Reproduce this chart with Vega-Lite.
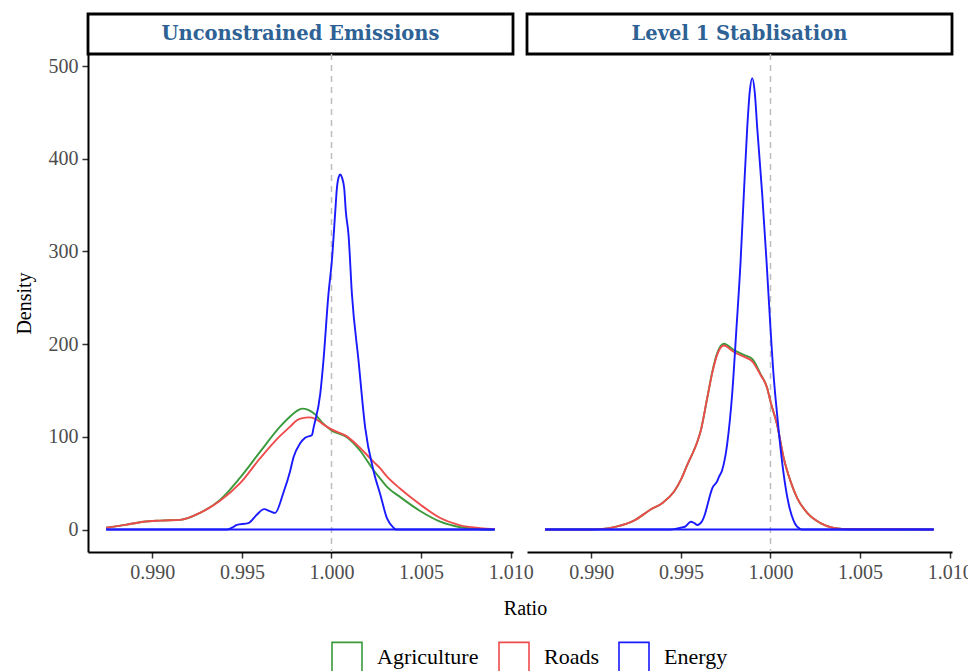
{
  "$schema": "https://vega.github.io/schema/vega-lite/v6.json",
  "background": "white",
  "autosize": {"type": "pad"},
  "padding": {"left": 14, "top": 12, "right": 10, "bottom": 0},
  "datasets": {
    "curves": [
      {"panel": "U", "sector": "Agriculture", "ratio": 0.98742, "density": 2},
      {"panel": "U", "sector": "Agriculture", "ratio": 0.9885, "density": 5},
      {"panel": "U", "sector": "Agriculture", "ratio": 0.9895, "density": 8.5},
      {"panel": "U", "sector": "Agriculture", "ratio": 0.99043, "density": 9.7},
      {"panel": "U", "sector": "Agriculture", "ratio": 0.99155, "density": 10.4},
      {"panel": "U", "sector": "Agriculture", "ratio": 0.99266, "density": 18},
      {"panel": "U", "sector": "Agriculture", "ratio": 0.99378, "density": 32},
      {"panel": "U", "sector": "Agriculture", "ratio": 0.9949, "density": 56},
      {"panel": "U", "sector": "Agriculture", "ratio": 0.99602, "density": 84},
      {"panel": "U", "sector": "Agriculture", "ratio": 0.99713, "density": 111},
      {"panel": "U", "sector": "Agriculture", "ratio": 0.99769, "density": 122},
      {"panel": "U", "sector": "Agriculture", "ratio": 0.99807, "density": 128},
      {"panel": "U", "sector": "Agriculture", "ratio": 0.99835, "density": 130.5},
      {"panel": "U", "sector": "Agriculture", "ratio": 0.9987, "density": 129},
      {"panel": "U", "sector": "Agriculture", "ratio": 0.9991, "density": 124},
      {"panel": "U", "sector": "Agriculture", "ratio": 0.9995, "density": 115},
      {"panel": "U", "sector": "Agriculture", "ratio": 1.0, "density": 107},
      {"panel": "U", "sector": "Agriculture", "ratio": 1.00086, "density": 99.6},
      {"panel": "U", "sector": "Agriculture", "ratio": 1.0016, "density": 85},
      {"panel": "U", "sector": "Agriculture", "ratio": 1.00235, "density": 64},
      {"panel": "U", "sector": "Agriculture", "ratio": 1.00272, "density": 55},
      {"panel": "U", "sector": "Agriculture", "ratio": 1.0031, "density": 46},
      {"panel": "U", "sector": "Agriculture", "ratio": 1.00384, "density": 35},
      {"panel": "U", "sector": "Agriculture", "ratio": 1.00495, "density": 20},
      {"panel": "U", "sector": "Agriculture", "ratio": 1.00607, "density": 8.5},
      {"panel": "U", "sector": "Agriculture", "ratio": 1.00719, "density": 2.5},
      {"panel": "U", "sector": "Agriculture", "ratio": 1.0083, "density": 0.4},
      {"panel": "U", "sector": "Agriculture", "ratio": 1.00911, "density": 0},
      {"panel": "U", "sector": "Roads", "ratio": 0.98742, "density": 2},
      {"panel": "U", "sector": "Roads", "ratio": 0.9885, "density": 5},
      {"panel": "U", "sector": "Roads", "ratio": 0.9895, "density": 8.5},
      {"panel": "U", "sector": "Roads", "ratio": 0.99043, "density": 9.7},
      {"panel": "U", "sector": "Roads", "ratio": 0.99155, "density": 10.4},
      {"panel": "U", "sector": "Roads", "ratio": 0.99266, "density": 18},
      {"panel": "U", "sector": "Roads", "ratio": 0.99378, "density": 31},
      {"panel": "U", "sector": "Roads", "ratio": 0.9949, "density": 50},
      {"panel": "U", "sector": "Roads", "ratio": 0.99602, "density": 77},
      {"panel": "U", "sector": "Roads", "ratio": 0.99713, "density": 101},
      {"panel": "U", "sector": "Roads", "ratio": 0.99769, "density": 111},
      {"panel": "U", "sector": "Roads", "ratio": 0.99807, "density": 118},
      {"panel": "U", "sector": "Roads", "ratio": 0.99845, "density": 120.5},
      {"panel": "U", "sector": "Roads", "ratio": 0.99872, "density": 121},
      {"panel": "U", "sector": "Roads", "ratio": 0.9991, "density": 119.5},
      {"panel": "U", "sector": "Roads", "ratio": 0.9995, "density": 114},
      {"panel": "U", "sector": "Roads", "ratio": 1.0, "density": 108},
      {"panel": "U", "sector": "Roads", "ratio": 1.00086, "density": 100.5},
      {"panel": "U", "sector": "Roads", "ratio": 1.0016, "density": 88},
      {"panel": "U", "sector": "Roads", "ratio": 1.00235, "density": 73},
      {"panel": "U", "sector": "Roads", "ratio": 1.00272, "density": 66},
      {"panel": "U", "sector": "Roads", "ratio": 1.0031, "density": 57},
      {"panel": "U", "sector": "Roads", "ratio": 1.00384, "density": 44},
      {"panel": "U", "sector": "Roads", "ratio": 1.00495, "density": 27},
      {"panel": "U", "sector": "Roads", "ratio": 1.00607, "density": 12.5},
      {"panel": "U", "sector": "Roads", "ratio": 1.00719, "density": 4.6},
      {"panel": "U", "sector": "Roads", "ratio": 1.0083, "density": 1.6},
      {"panel": "U", "sector": "Roads", "ratio": 1.00911, "density": 0.3},
      {"panel": "U", "sector": "Energy", "ratio": 0.98742, "density": 0},
      {"panel": "U", "sector": "Energy", "ratio": 0.99416, "density": 0},
      {"panel": "U", "sector": "Energy", "ratio": 0.99445, "density": 2},
      {"panel": "U", "sector": "Energy", "ratio": 0.99472, "density": 5},
      {"panel": "U", "sector": "Energy", "ratio": 0.99536, "density": 7},
      {"panel": "U", "sector": "Energy", "ratio": 0.99583, "density": 16},
      {"panel": "U", "sector": "Energy", "ratio": 0.99624, "density": 22},
      {"panel": "U", "sector": "Energy", "ratio": 0.99655, "density": 20},
      {"panel": "U", "sector": "Energy", "ratio": 0.99685, "density": 18},
      {"panel": "U", "sector": "Energy", "ratio": 0.99732, "density": 40},
      {"panel": "U", "sector": "Energy", "ratio": 0.99769, "density": 63},
      {"panel": "U", "sector": "Energy", "ratio": 0.99788, "density": 78},
      {"panel": "U", "sector": "Energy", "ratio": 0.99825, "density": 93},
      {"panel": "U", "sector": "Energy", "ratio": 0.99853, "density": 99},
      {"panel": "U", "sector": "Energy", "ratio": 0.99891, "density": 102},
      {"panel": "U", "sector": "Energy", "ratio": 0.999, "density": 110},
      {"panel": "U", "sector": "Energy", "ratio": 0.99937, "density": 146},
      {"panel": "U", "sector": "Energy", "ratio": 0.99955, "density": 182},
      {"panel": "U", "sector": "Energy", "ratio": 0.99983, "density": 254},
      {"panel": "U", "sector": "Energy", "ratio": 1.00002, "density": 290},
      {"panel": "U", "sector": "Energy", "ratio": 1.00021, "density": 343},
      {"panel": "U", "sector": "Energy", "ratio": 1.0003, "density": 368},
      {"panel": "U", "sector": "Energy", "ratio": 1.0004, "density": 380},
      {"panel": "U", "sector": "Energy", "ratio": 1.00049, "density": 383},
      {"panel": "U", "sector": "Energy", "ratio": 1.00058, "density": 380},
      {"panel": "U", "sector": "Energy", "ratio": 1.00071, "density": 368},
      {"panel": "U", "sector": "Energy", "ratio": 1.0008, "density": 343},
      {"panel": "U", "sector": "Energy", "ratio": 1.00095, "density": 318},
      {"panel": "U", "sector": "Energy", "ratio": 1.00114, "density": 254},
      {"panel": "U", "sector": "Energy", "ratio": 1.00151, "density": 182},
      {"panel": "U", "sector": "Energy", "ratio": 1.00188, "density": 110},
      {"panel": "U", "sector": "Energy", "ratio": 1.00235, "density": 63},
      {"panel": "U", "sector": "Energy", "ratio": 1.00272, "density": 38},
      {"panel": "U", "sector": "Energy", "ratio": 1.0031, "density": 12},
      {"panel": "U", "sector": "Energy", "ratio": 1.00346, "density": 2},
      {"panel": "U", "sector": "Energy", "ratio": 1.0036, "density": 0},
      {"panel": "U", "sector": "Energy", "ratio": 1.00911, "density": 0},
      {"panel": "L", "sector": "Agriculture", "ratio": 0.98742, "density": 0},
      {"panel": "L", "sector": "Agriculture", "ratio": 0.99, "density": 0},
      {"panel": "L", "sector": "Agriculture", "ratio": 0.99052, "density": 0.5},
      {"panel": "L", "sector": "Agriculture", "ratio": 0.99145, "density": 3.5},
      {"panel": "L", "sector": "Agriculture", "ratio": 0.99238, "density": 9.7},
      {"panel": "L", "sector": "Agriculture", "ratio": 0.99331, "density": 21.6},
      {"panel": "L", "sector": "Agriculture", "ratio": 0.99397, "density": 28.7},
      {"panel": "L", "sector": "Agriculture", "ratio": 0.99462, "density": 41},
      {"panel": "L", "sector": "Agriculture", "ratio": 0.99498, "density": 53},
      {"panel": "L", "sector": "Agriculture", "ratio": 0.99536, "density": 70},
      {"panel": "L", "sector": "Agriculture", "ratio": 0.99592, "density": 95},
      {"panel": "L", "sector": "Agriculture", "ratio": 0.9961, "density": 106},
      {"panel": "L", "sector": "Agriculture", "ratio": 0.99647, "density": 142},
      {"panel": "L", "sector": "Agriculture", "ratio": 0.99675, "density": 170},
      {"panel": "L", "sector": "Agriculture", "ratio": 0.99702, "density": 190},
      {"panel": "L", "sector": "Agriculture", "ratio": 0.9974, "density": 200.5},
      {"panel": "L", "sector": "Agriculture", "ratio": 0.99796, "density": 193.5},
      {"panel": "L", "sector": "Agriculture", "ratio": 0.99851, "density": 188.5},
      {"panel": "L", "sector": "Agriculture", "ratio": 0.99898, "density": 184},
      {"panel": "L", "sector": "Agriculture", "ratio": 0.99944, "density": 168},
      {"panel": "L", "sector": "Agriculture", "ratio": 0.99981, "density": 153},
      {"panel": "L", "sector": "Agriculture", "ratio": 1.0, "density": 138},
      {"panel": "L", "sector": "Agriculture", "ratio": 1.00037, "density": 113},
      {"panel": "L", "sector": "Agriculture", "ratio": 1.00074, "density": 77},
      {"panel": "L", "sector": "Agriculture", "ratio": 1.00112, "density": 52},
      {"panel": "L", "sector": "Agriculture", "ratio": 1.00149, "density": 34},
      {"panel": "L", "sector": "Agriculture", "ratio": 1.00205, "density": 18},
      {"panel": "L", "sector": "Agriculture", "ratio": 1.00279, "density": 7},
      {"panel": "L", "sector": "Agriculture", "ratio": 1.00353, "density": 1.7},
      {"panel": "L", "sector": "Agriculture", "ratio": 1.00446, "density": 0.3},
      {"panel": "L", "sector": "Agriculture", "ratio": 1.00911, "density": 0},
      {"panel": "L", "sector": "Roads", "ratio": 0.98742, "density": 0},
      {"panel": "L", "sector": "Roads", "ratio": 0.99, "density": 0},
      {"panel": "L", "sector": "Roads", "ratio": 0.99052, "density": 0.5},
      {"panel": "L", "sector": "Roads", "ratio": 0.99145, "density": 3.5},
      {"panel": "L", "sector": "Roads", "ratio": 0.99238, "density": 9.7},
      {"panel": "L", "sector": "Roads", "ratio": 0.99331, "density": 21.6},
      {"panel": "L", "sector": "Roads", "ratio": 0.99397, "density": 28.7},
      {"panel": "L", "sector": "Roads", "ratio": 0.99462, "density": 41},
      {"panel": "L", "sector": "Roads", "ratio": 0.99498, "density": 53},
      {"panel": "L", "sector": "Roads", "ratio": 0.99536, "density": 70},
      {"panel": "L", "sector": "Roads", "ratio": 0.99592, "density": 95},
      {"panel": "L", "sector": "Roads", "ratio": 0.9961, "density": 106},
      {"panel": "L", "sector": "Roads", "ratio": 0.99647, "density": 142},
      {"panel": "L", "sector": "Roads", "ratio": 0.99675, "density": 169},
      {"panel": "L", "sector": "Roads", "ratio": 0.99702, "density": 188.5},
      {"panel": "L", "sector": "Roads", "ratio": 0.9974, "density": 198.5},
      {"panel": "L", "sector": "Roads", "ratio": 0.99796, "density": 191.5},
      {"panel": "L", "sector": "Roads", "ratio": 0.99851, "density": 186.5},
      {"panel": "L", "sector": "Roads", "ratio": 0.99898, "density": 181.5},
      {"panel": "L", "sector": "Roads", "ratio": 0.99944, "density": 167},
      {"panel": "L", "sector": "Roads", "ratio": 0.99981, "density": 153},
      {"panel": "L", "sector": "Roads", "ratio": 1.0, "density": 138},
      {"panel": "L", "sector": "Roads", "ratio": 1.00037, "density": 113},
      {"panel": "L", "sector": "Roads", "ratio": 1.00074, "density": 77},
      {"panel": "L", "sector": "Roads", "ratio": 1.00112, "density": 52},
      {"panel": "L", "sector": "Roads", "ratio": 1.00149, "density": 34},
      {"panel": "L", "sector": "Roads", "ratio": 1.00205, "density": 18},
      {"panel": "L", "sector": "Roads", "ratio": 1.00279, "density": 7},
      {"panel": "L", "sector": "Roads", "ratio": 1.00353, "density": 1.7},
      {"panel": "L", "sector": "Roads", "ratio": 1.00446, "density": 0.3},
      {"panel": "L", "sector": "Roads", "ratio": 1.00911, "density": 0},
      {"panel": "L", "sector": "Energy", "ratio": 0.98742, "density": 0},
      {"panel": "L", "sector": "Energy", "ratio": 0.99442, "density": 0},
      {"panel": "L", "sector": "Energy", "ratio": 0.99498, "density": 2},
      {"panel": "L", "sector": "Energy", "ratio": 0.99526, "density": 3.5},
      {"panel": "L", "sector": "Energy", "ratio": 0.99555, "density": 8.5},
      {"panel": "L", "sector": "Energy", "ratio": 0.99575, "density": 7},
      {"panel": "L", "sector": "Energy", "ratio": 0.99592, "density": 5},
      {"panel": "L", "sector": "Energy", "ratio": 0.99618, "density": 9},
      {"panel": "L", "sector": "Energy", "ratio": 0.99635, "density": 17},
      {"panel": "L", "sector": "Energy", "ratio": 0.99646, "density": 25},
      {"panel": "L", "sector": "Energy", "ratio": 0.99676, "density": 45},
      {"panel": "L", "sector": "Energy", "ratio": 0.99702, "density": 52},
      {"panel": "L", "sector": "Energy", "ratio": 0.99713, "density": 57},
      {"panel": "L", "sector": "Energy", "ratio": 0.9973, "density": 64},
      {"panel": "L", "sector": "Energy", "ratio": 0.99758, "density": 92},
      {"panel": "L", "sector": "Energy", "ratio": 0.99786, "density": 146},
      {"panel": "L", "sector": "Energy", "ratio": 0.9981, "density": 217},
      {"panel": "L", "sector": "Energy", "ratio": 0.99833, "density": 289},
      {"panel": "L", "sector": "Energy", "ratio": 0.99851, "density": 361},
      {"panel": "L", "sector": "Energy", "ratio": 0.9987, "density": 433},
      {"panel": "L", "sector": "Energy", "ratio": 0.99884, "density": 472},
      {"panel": "L", "sector": "Energy", "ratio": 0.99898, "density": 487},
      {"panel": "L", "sector": "Energy", "ratio": 0.99912, "density": 472},
      {"panel": "L", "sector": "Energy", "ratio": 0.99926, "density": 433},
      {"panel": "L", "sector": "Energy", "ratio": 0.99954, "density": 361},
      {"panel": "L", "sector": "Energy", "ratio": 0.99978, "density": 289},
      {"panel": "L", "sector": "Energy", "ratio": 1.0, "density": 217},
      {"panel": "L", "sector": "Energy", "ratio": 1.00019, "density": 162},
      {"panel": "L", "sector": "Energy", "ratio": 1.00028, "density": 142},
      {"panel": "L", "sector": "Energy", "ratio": 1.00047, "density": 104},
      {"panel": "L", "sector": "Energy", "ratio": 1.00074, "density": 59},
      {"panel": "L", "sector": "Energy", "ratio": 1.00102, "density": 27},
      {"panel": "L", "sector": "Energy", "ratio": 1.0013, "density": 9},
      {"panel": "L", "sector": "Energy", "ratio": 1.00167, "density": 0.5},
      {"panel": "L", "sector": "Energy", "ratio": 1.0018, "density": 0},
      {"panel": "L", "sector": "Energy", "ratio": 1.00911, "density": 0}
    ],
    "baseline": [
      {"from": 0.98742, "to": 1.00911, "base": 0}
    ],
    "reference": [
      {"ref": 1.0}
    ]
  },
  "config": {
    "view": {"stroke": null},
    "font": "Liberation Serif",
    "axis": {
      "grid": false,
      "domainColor": "black",
      "domainWidth": 2,
      "tickColor": "#333333",
      "tickWidth": 1.5,
      "tickSize": 6,
      "labelColor": "#4D4D4D",
      "labelFont": "Liberation Serif",
      "labelFontSize": 20,
      "labelPadding": 4,
      "titleFont": "Liberation Serif",
      "titleFontSize": 20,
      "titleFontWeight": "normal",
      "titleColor": "black"
    },
    "legend": {
      "orient": "none",
      "legendX": 243,
      "legendY": 627,
      "direction": "horizontal",
      "symbolType": "square",
      "symbolSize": 900,
      "symbolStrokeWidth": 1.6,
      "symbolFillColor": "white",
      "labelFont": "Liberation Serif",
      "labelFontSize": 22,
      "labelColor": "black",
      "labelOffset": 14,
      "columnPadding": 16
    }
  },
  "columns": 2,
  "spacing": {"row": 0, "column": 14},
  "bounds": "flush",
  "resolve": {"scale": {"color": "shared"}},
  "concat": [
    {
      "width": 425,
      "height": 40,
      "view": {"stroke": "black", "strokeWidth": 2.8, "fill": "white"},
      "data": {"values": [{"label": "Unconstrained Emissions"}]},
      "mark": {"type": "text", "font": "DejaVu Serif", "fontWeight": "bold", "fontSize": 19.5, "color": "#2E6194", "align": "center", "baseline": "middle"},
      "encoding": {"text": {"field": "label", "type": "nominal"}}
    },
    {
      "width": 425,
      "height": 40,
      "view": {"stroke": "black", "strokeWidth": 2.8, "fill": "white"},
      "data": {"values": [{"label": "Level 1 Stablisation"}]},
      "mark": {"type": "text", "font": "DejaVu Serif", "fontWeight": "bold", "fontSize": 19.5, "color": "#2E6194", "align": "center", "baseline": "middle"},
      "encoding": {"text": {"field": "label", "type": "nominal"}}
    },
    {
      "width": 425,
      "height": 498,
      "layer": [
        {
          "data": {"name": "reference"},
          "mark": {"type": "rule", "color": "#BDBDBD", "strokeDash": [6, 5], "strokeWidth": 1.5},
          "encoding": {
            "x": {"field": "ref", "type": "quantitative", "scale": {"domain": [0.98641, 1.01013], "nice": false, "zero": false}}
          }
        },
        {
          "data": {"name": "curves"},
          "transform": [{"filter": "datum.panel === 'U'"}],
          "mark": {"type": "line", "strokeWidth": 1.9, "interpolate": "monotone"},
          "encoding": {
            "x": {"field": "ratio", "type": "quantitative", "scale": {"domain": [0.98641, 1.01013], "nice": false, "zero": false},
                  "axis": {"title": "Ratio", "values": [0.99, 0.995, 1.0, 1.005, 1.01], "format": ".3f", "titleX": 437, "titleY": 56, "titleAlign": "center", "titleBaseline": "middle"}},
            "y": {"field": "density", "type": "quantitative", "scale": {"domain": [-24.2, 513], "nice": false, "zero": false},
                  "axis": {"title": "Density", "values": [0, 100, 200, 300, 400, 500], "titlePadding": 14}},
            "color": {"field": "sector", "type": "nominal",
                      "scale": {"domain": ["Agriculture", "Roads", "Energy"], "range": ["#3B9A3B", "#EE4C4C", "#1A1AFF"]},
                      "legend": {"title": null}}
          }
        },
        {
          "data": {"name": "baseline"},
          "mark": {"type": "rule", "color": "#1A1AFF", "strokeWidth": 1.9},
          "encoding": {
            "x": {"field": "from", "type": "quantitative", "scale": {"domain": [0.98641, 1.01013], "nice": false, "zero": false}},
            "x2": {"field": "to"},
            "y": {"field": "base", "type": "quantitative", "scale": {"domain": [-24.2, 513], "nice": false, "zero": false}}
          }
        }
      ]
    },
    {
      "width": 425,
      "height": 498,
      "layer": [
        {
          "data": {"name": "reference"},
          "mark": {"type": "rule", "color": "#BDBDBD", "strokeDash": [6, 5], "strokeWidth": 1.5},
          "encoding": {
            "x": {"field": "ref", "type": "quantitative", "scale": {"domain": [0.98641, 1.01013], "nice": false, "zero": false}}
          }
        },
        {
          "data": {"name": "curves"},
          "transform": [{"filter": "datum.panel === 'L'"}],
          "mark": {"type": "line", "strokeWidth": 1.9, "interpolate": "monotone"},
          "encoding": {
            "x": {"field": "ratio", "type": "quantitative", "scale": {"domain": [0.98641, 1.01013], "nice": false, "zero": false},
                  "axis": {"title": null, "values": [0.99, 0.995, 1.0, 1.005, 1.01], "format": ".3f"}},
            "y": {"field": "density", "type": "quantitative", "scale": {"domain": [-24.2, 513], "nice": false, "zero": false}, "axis": null},
            "color": {"field": "sector", "type": "nominal",
                      "scale": {"domain": ["Agriculture", "Roads", "Energy"], "range": ["#3B9A3B", "#EE4C4C", "#1A1AFF"]},
                      "legend": {"title": null}}
          }
        },
        {
          "data": {"name": "baseline"},
          "mark": {"type": "rule", "color": "#1A1AFF", "strokeWidth": 1.9},
          "encoding": {
            "x": {"field": "from", "type": "quantitative", "scale": {"domain": [0.98641, 1.01013], "nice": false, "zero": false}},
            "x2": {"field": "to"},
            "y": {"field": "base", "type": "quantitative", "scale": {"domain": [-24.2, 513], "nice": false, "zero": false}, "axis": null}
          }
        }
      ]
    }
  ]
}
